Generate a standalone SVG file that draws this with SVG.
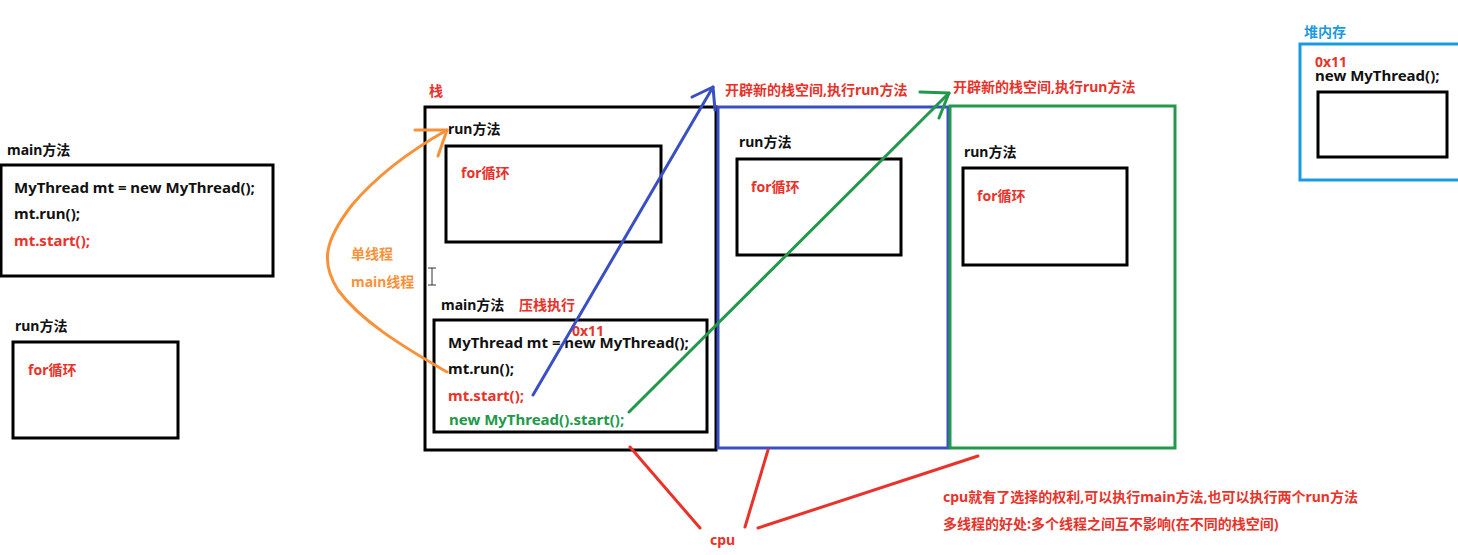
<svg xmlns="http://www.w3.org/2000/svg" width="1458" height="555" viewBox="0 0 1458 555">
<style>
.b{fill:none;stroke:#000;stroke-width:3}
.t{font-family:"Noto Sans","Noto Sans CJK SC",sans-serif;font-weight:bold;font-size:14px;fill:#111}
.c{font-size:15px}
.r{fill:#e8332b}
.g{fill:#22994a}
.o{fill:#f7923a}
.lb{fill:#1a9ae0}
.ln{fill:none;stroke-width:3;stroke-linecap:round;stroke-linejoin:round}
</style>
<rect width="1458" height="555" fill="#fff"/>
<g id="main-left">
<text class="t" x="7" y="155">main方法</text>
<rect class="b" x="1" y="165" width="272" height="111"/>
<text class="t c" x="14" y="193">MyThread mt = new MyThread();</text>
<text class="t c" x="14" y="219">mt.run();</text>
<text class="t c r" x="14" y="246">mt.start();</text>
</g>
<g id="run-left">
<text class="t" x="15" y="331">run方法</text>
<rect class="b" x="13" y="342" width="165" height="96"/>
<text class="t r" x="28" y="375">for循环</text>
</g>
<g id="stack">
<text class="t r" x="429" y="96">栈</text>
<rect class="b" x="425" y="107" width="291" height="343"/>
<text class="t" x="448" y="134">run方法</text>
<rect class="b" x="446" y="146" width="215" height="96"/>
<text class="t r" x="461" y="178">for循环</text>
<text class="t" x="441" y="310">main方法</text>
<text class="t r" x="519" y="310">压栈执行</text>
<rect class="b" x="434" y="320" width="273" height="112"/>
<text class="t r" x="572" y="336">0x11</text>
<text class="t c" x="448" y="348">MyThread mt = new MyThread();</text>
<text class="t c" x="448" y="374">mt.run();</text>
<text class="t c r" x="448" y="401">mt.start();</text>
<text class="t c g" x="449" y="425">new MyThread().start();</text>
<path d="M428 268h8M432 268v17M428 285h8" stroke="#333" stroke-width="1" fill="none"/>
</g>
<g id="stack-blue">
<text class="t r" x="725" y="95">开辟新的栈空间,执行run方法</text>
<rect x="718" y="107" width="230" height="341" fill="none" stroke="#3a4fc4" stroke-width="3"/>
<text class="t" x="739" y="147">run方法</text>
<rect class="b" x="737" y="159" width="164" height="96"/>
<text class="t r" x="751" y="192">for循环</text>
</g>
<g id="stack-green">
<text class="t r" x="953" y="92">开辟新的栈空间,执行run方法</text>
<rect x="950" y="106" width="225" height="342" fill="none" stroke="#22994a" stroke-width="3"/>
<text class="t" x="964" y="157">run方法</text>
<rect class="b" x="963" y="168" width="164" height="97"/>
<text class="t r" x="977" y="201">for循环</text>
</g>
<g id="heap">
<text class="t lb" x="1304" y="37">堆内存</text>
<rect x="1300" y="44" width="162" height="136" fill="none" stroke="#1a9ae0" stroke-width="3"/>
<text class="t r" x="1315" y="67">0x11</text>
<text class="t c" x="1315" y="81">new MyThread();</text>
<rect class="b" x="1318" y="92" width="129" height="65"/>
</g>
<g id="cpu-note">
<text class="t r" x="710" y="545">cpu</text>
<text class="t r" x="943" y="502">cpu就有了选择的权利,可以执行main方法,也可以执行两个run方法</text>
<text class="t r" x="943" y="529">多线程的好处:多个线程之间互不影响(在不同的栈空间)</text>
</g>
<g id="connectors">
<path class="ln" stroke="#f7923a" d="M447 372C400 345 360 320 338 290C320 262 325 240 352 205C380 172 415 148 447 130"/>
<path class="ln" stroke="#f7923a" d="M415 130H447L438 156"/>
<text class="t o" x="351" y="259">单线程</text>
<text class="t o" x="351" y="287">main线程</text>
<path class="ln" stroke="#3a4fc4" d="M533 395L713 87"/>
<path class="ln" stroke="#3a4fc4" d="M692 97L713 87L715 110"/>
<path class="ln" stroke="#22994a" d="M629 412L949 93"/>
<path class="ln" stroke="#22994a" d="M920 92L949 93L939 118"/>
<path class="ln" stroke="#e8332b" stroke-width="4" d="M630 447L700 528"/>
<path class="ln" stroke="#e8332b" stroke-width="4" d="M768 450L745 527"/>
<path class="ln" stroke="#e8332b" stroke-width="4" d="M978 456L758 528"/>
</g>
</svg>
